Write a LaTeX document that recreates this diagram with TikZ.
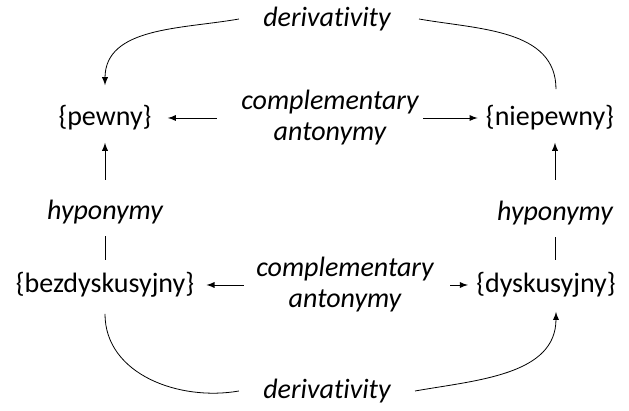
\documentclass[tikz,border=0pt]{standalone}
\usepackage{fontspec}
\setmainfont{Carlito}[Ligatures=NoCommon]
\usetikzlibrary{arrows}

\begin{document}
\begin{tikzpicture}[x=0.5pt, y=-0.5pt, >=latex,
  word/.style={font=\fontsize{14}{17}\selectfont, inner sep=0pt},
  rel/.style={font=\fontsize{14}{15.5}\selectfont\itshape, inner sep=0pt, align=center}]
  \useasboundingbox (0,0) rectangle (629,411);
  % the four words
  \node[word] (pewny) at (105,118) {\{pewny\}};
  \node[word] (niepewny) at (550,118) {\{niepewny\}};
  \node[word] (bezdysk) at (105,285) {\{bezdyskusyjny\}};
  \node[word] (dysk) at (546,285) {\{dyskusyjny\}};
  % relation labels
  \node[rel] (derivtop) at (327,19) {derivativity};
  \node[rel] (derivbot) at (327,391) {derivativity};
  \node[rel] (antop) at (330,118) {complementary\\antonymy};
  \node[rel] (antbot) at (345,285) {complementary\\antonymy};
  \node[rel] (hyleft) at (105,212) {hyponymy};
  \node[rel] (hyright) at (555,213) {hyponymy};
  % antonymy
  \draw[->] ([xshift=-12pt]antop.west) -- ([xshift=8pt]pewny.east);
  \draw[->] ([xshift=2pt]antop.east) -- ([xshift=-4pt]niepewny.west);
  \draw[->] ([xshift=-6pt]antbot.west) -- ([xshift=6pt]bezdysk.east);
  \draw[->] ([xshift=8pt]antbot.east) -- ([xshift=-4pt]dysk.west);
  % hyponymy
  \draw[->] ([yshift=10pt]hyleft.north) -- ([yshift=-6pt]pewny.south);
  \draw ([yshift=-6pt]hyleft.south) -- ([yshift=6pt]bezdysk.north);
  \draw[->] ([yshift=10pt]hyright.north |- hyleft.north) -- ([yshift=-6pt]hyright.north |- pewny.south);
  \draw ([yshift=-6pt]hyright.south) -- ([yshift=6pt]hyright.south |- bezdysk.north);
  % derivativity
  \draw[->] ([xshift=-12pt]derivtop.west) to[out=190, in=90] ([yshift=10pt]pewny.north);
  \draw ([xshift=14pt]derivtop.east) to[out=-10, in=90] ([xshift=3pt, yshift=8pt]niepewny.north);
  \draw ([yshift=-8pt]bezdysk.south) to[out=-90, in=190] ([xshift=-12pt]derivbot.west);
  \draw[->] ([xshift=12pt]derivbot.east) to[out=10, in=-90] ([xshift=5pt, yshift=-7pt]dysk.south);
\end{tikzpicture}
\end{document}
